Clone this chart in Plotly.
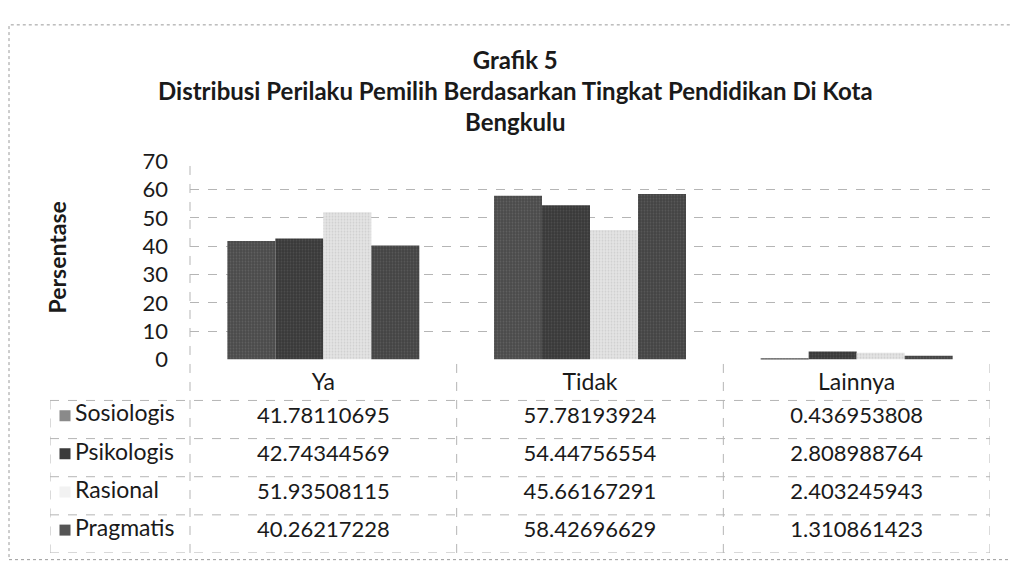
import plotly.graph_objects as go

# ---------------- data ----------------
categories = ["Ya", "Tidak", "Lainnya"]
series_names = ["Sosiologis", "Psikologis", "Rasional", "Pragmatis"]
sosiologis = [41.78110695, 57.78193924, 0.436953808]
psikologis = [42.74344569, 54.44756554, 2.808988764]
rasional = [51.93508115, 45.66167291, 2.403245943]
pragmatis = [40.26217228, 58.42696629, 1.310861423]
y_ticks = [0, 10, 20, 30, 40, 50, 60, 70]
title_lines = ["Grafik 5",
               "Distribusi Perilaku Pemilih Berdasarkan Tingkat Pendidikan Di Kota",
               "Bengkulu"]
y_title = "Persentase"

series_values = [sosiologis, psikologis, rasional, pragmatis]

# ---------------- styles ----------------
W, H = 1019, 578
OFF = 8  # page body margin offset
FONT = "Lato"
TXT = "#1a1a1a"
bar_colors = ["#4a4a4a", "#393939", "#e4e4e4", "#434343"]
grain_colors = ["#787878", "#646464", "#b8b8b8", "#707070"]
key_colors = ["#8a8a8a", "#3a3a3a", "#f2f2f2", "#555555"]
grid_color = "#b5b5b5"


def px_x(px):
    return (px - OFF) / W


def px_y(py):
    return 1 - (py - OFF) / H


plot_left, plot_right = 190, 990
plot_top, plot_bottom = 154, 362
table_left = 50
table_top, table_bottom = 362, 565
header_h = 43
colw = (plot_right - plot_left) / len(categories)


def px_to_x2(px):
    return (px - plot_left) / colw - 0.5


row_h = (table_bottom - table_top - header_h) / len(series_names)
header_v = -header_h / row_h

fig = go.Figure()

for name, vals, c, gc in zip(series_names, series_values, bar_colors, grain_colors):
    fig.add_trace(go.Bar(
        x=categories, y=vals, name=name,
        marker=dict(color=c, line=dict(width=0),
                    pattern=dict(shape=".", fgcolor=gc, bgcolor=c, size=3, solidity=0.3)),
        xaxis="x", yaxis="y", showlegend=False, hoverinfo="x+y+name",
    ))

# table: category header
fig.add_trace(go.Scatter(
    x=list(range(len(categories))), y=[header_v / 2 + 0.12] * len(categories),
    text=categories, mode="text", xaxis="x2", yaxis="y2",
    textfont=dict(family=FONT, size=23, color=TXT), showlegend=False, hoverinfo="skip",
))

# table: rows
for i, (name, vals, kc) in enumerate(zip(series_names, series_values, key_colors)):
    fig.add_trace(go.Scatter(
        x=list(range(len(categories))), y=[i + 0.45] * len(categories),
        text=[str(v) for v in vals], mode="text", xaxis="x2", yaxis="y2",
        textfont=dict(family=FONT, size=22, color=TXT), showlegend=False, hoverinfo="skip",
    ))
    fig.add_trace(go.Scatter(
        x=[px_to_x2(65)], y=[i + 0.4], mode="markers", xaxis="x2", yaxis="y2",
        marker=dict(symbol="square", size=11, color=kc, line=dict(width=0)),
        showlegend=False, hoverinfo="skip",
    ))
    fig.add_trace(go.Scatter(
        x=[px_to_x2(75)], y=[i + 0.4], mode="text", text=[name], textposition="middle right",
        xaxis="x2", yaxis="y2",
        textfont=dict(family=FONT, size=23, color=TXT), showlegend=False, hoverinfo="skip",
    ))

shapes = []
dash_line = dict(color=grid_color, width=1, dash="dash")
x2_left = px_to_x2(table_left)
x2_right = len(categories) - 0.5
for k in range(len(series_names) + 1):
    shapes.append(dict(type="line", xref="x2", yref="y2", x0=x2_left, x1=x2_right,
                       y0=k, y1=k, line=dash_line))
shapes.append(dict(type="line", xref="x2", yref="y2", x0=x2_left, x1=x2_left,
                   y0=0, y1=len(series_names), line=dash_line))
for k in range(len(categories) + 1):
    xv = k - 0.5
    y_top = px_y(plot_top) if k == 0 else px_y(table_top)
    shapes.append(dict(type="line", xref="x2", yref="paper", x0=xv, x1=xv,
                       y0=px_y(table_bottom), y1=y_top, line=dash_line))
shapes.append(dict(type="rect", xref="paper", yref="paper", x0=px_x(9), x1=px_x(1013),
                   y0=px_y(572), y1=px_y(11), line=dict(color="#9a9a9a", width=1, dash="dot")))

annotations = [
    dict(text="<b>" + "<br>".join(title_lines) + "</b>", xref="paper", yref="paper",
         x=px_x(515), y=px_y(80), xanchor="center", yanchor="middle", showarrow=False,
         font=dict(family=FONT, size=24, color=TXT), align="center"),
    dict(text="<b>" + y_title + "</b>", xref="paper", yref="paper", x=px_x(57), y=px_y(255),
         xanchor="center", yanchor="middle", textangle=-90, showarrow=False,
         font=dict(family=FONT, size=23, color=TXT)),
]

fig.update_layout(
    width=W, height=H, margin=dict(l=0, r=0, t=0, b=0),
    paper_bgcolor="white", plot_bgcolor="white",
    barmode="group", bargap=0.28, bargroupgap=0,
    xaxis=dict(domain=[px_x(plot_left), px_x(plot_right)], type="category",
               categoryorder="array", categoryarray=categories,
               range=[-0.5, len(categories) - 0.5],
               showticklabels=False, showgrid=False, showline=False, zeroline=False,
               anchor="y"),
    yaxis=dict(domain=[px_y(plot_bottom), px_y(plot_top)], range=[0, 70],
               tickmode="array", tickvals=y_ticks, ticktext=[str(t) for t in y_ticks],
               showgrid=True, gridcolor=grid_color, griddash="dash", gridwidth=1,
               zeroline=False, showline=False, ticks="", ticklabelstandoff=21,
               tickfont=dict(family=FONT, size=22, color=TXT), anchor="x"),
    xaxis2=dict(domain=[px_x(table_left), px_x(plot_right)], range=[x2_left, x2_right],
                visible=False, anchor="y2"),
    yaxis2=dict(domain=[px_y(table_bottom), px_y(table_top)],
                range=[len(series_names), header_v], visible=False, anchor="x2"),
    shapes=shapes, annotations=annotations,
)

fig.write_html("out.html")
